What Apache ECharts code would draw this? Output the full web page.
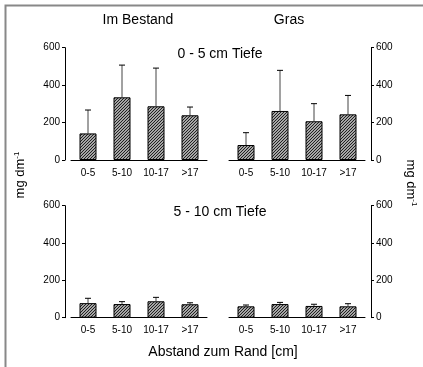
<!DOCTYPE html>
<html><head><meta charset="utf-8">
<script src="https://cdn.jsdelivr.net/npm/echarts@6/dist/echarts.min.js"></script>
<style>html,body{margin:0;padding:0;background:#fff}#c{width:423px;height:367px}</style>
</head><body><div id="c"></div>
<script>
// ---- data ----
const categories = ['0-5', '5-10', '10-17', '>17'];
const yTicks = [0, 200, 400, 600];
const panelTitles = ['Im Bestand', 'Gras'];
const depthTitles = ['0 - 5 cm Tiefe', '5 - 10 cm Tiefe'];
// 0-5 cm depth
const bestandTopMean = [142, 335, 287, 239];
const bestandTopSd   = [125, 172, 204, 44];
const grasTopMean    = [80, 262, 207, 244];
const grasTopSd      = [66, 217, 94, 101];
// 5-10 cm depth
const bestandBotMean = [78, 73, 88, 72];
const bestandBotSd   = [26, 13, 21, 8];
const grasBotMean    = [61, 73, 63, 61];
const grasBotSd      = [7, 9, 9, 14];

// ---- hatch pattern ----
function hatch() {
  const c = document.createElement('canvas');
  c.width = 3; c.height = 3;
  const g = c.getContext('2d');
  g.fillStyle = '#e6e6e6'; g.fillRect(0, 0, 3, 3);
  g.strokeStyle = '#1a1a1a'; g.lineWidth = 1.2;
  g.beginPath();
  g.moveTo(-1, 4); g.lineTo(4, -1);
  g.moveTo(-1, 1); g.lineTo(1, -1);
  g.moveTo(2, 4); g.lineTo(4, 2);
  g.stroke();
  return { image: c, repeat: 'repeat' };
}
const pattern = hatch();

const FONT = 'Liberation Sans, Arial, sans-serif';
const grids = [
  { left: 71, width: 136, top: 47.7, height: 112.3 },
  { left: 229, width: 136, top: 47.7, height: 112.3 },
  { left: 71, width: 136, top: 205.7, height: 112 },
  { left: 229, width: 136, top: 205.7, height: 112 }
];
const means = [bestandTopMean, grasTopMean, bestandBotMean, grasBotMean];
const sds = [bestandTopSd, grasTopSd, bestandBotSd, grasBotSd];

const xAxes = grids.map((g, i) => ({
  type: 'category', gridIndex: i, data: categories,
  axisLine: { lineStyle: { color: '#000', width: 1 } },
  axisTick: { alignWithLabel: true, length: 3, lineStyle: { color: '#000' } },
  axisLabel: { color: '#000', fontSize: 10, fontFamily: FONT, margin: 8, interval: 0, hideOverlap: false }
}));
const yAxes = grids.map((g, i) => ({
  type: 'value', gridIndex: i, min: yTicks[0], max: yTicks[yTicks.length - 1], interval: yTicks[1] - yTicks[0],
  position: i % 2 === 0 ? 'left' : 'right', offset: 6,
  splitLine: { show: false },
  axisLine: { show: true, lineStyle: { color: '#000', width: 1 } },
  axisTick: { show: true, length: 3, lineStyle: { color: '#000' } },
  axisLabel: { color: '#000', fontSize: 10, fontFamily: FONT, margin: 5 }
}));

const series = [];
means.forEach((m, i) => {
  series.push({
    type: 'bar', xAxisIndex: i, yAxisIndex: i, data: m, barWidth: 17,
    itemStyle: { color: pattern, borderColor: '#000', borderWidth: 1 },
    z: 2
  });
  series.push({
    type: 'custom', xAxisIndex: i, yAxisIndex: i, z: 1,
    data: m.map((v, k) => [k, v, sds[i][k]]),
    renderItem: function (params, api) {
      const k = api.value(0), v = api.value(1), s = api.value(2);
      const p0 = api.coord([k, v]);
      const p1 = api.coord([k, v + s]);
      return {
        type: 'group', children: [
          { type: 'line', shape: { x1: p0[0], y1: p0[1], x2: p1[0], y2: p1[1] }, style: { stroke: '#444', lineWidth: 1 } },
          { type: 'line', shape: { x1: p1[0] - 3, y1: p1[1], x2: p1[0] + 3, y2: p1[1] }, style: { stroke: '#000', lineWidth: 1 } }
        ]
      };
    }
  });
});

const chart = echarts.init(document.getElementById('c'), null, { renderer: 'canvas' });
const T = (x, y, text, size) => ({ type: 'text', x: x, y: y, style: { text: text, font: size + 'px ' + FONT, fill: '#000', align: 'center', verticalAlign: 'middle' } });
const rich = { s: { fontSize: 8, verticalAlign: 'top', padding: [0, 0, 7, 0], fontFamily: FONT } };
chart.setOption({
  animation: false,
  backgroundColor: '#fff',
  grid: grids,
  xAxis: xAxes,
  yAxis: yAxes,
  series: series,
  graphic: [
    { type: 'rect', shape: { x: 5.5, y: 5.5, width: 600, height: 600 }, style: { fill: 'none', stroke: '#888', lineWidth: 2 }, silent: true },
    T(138, 20, panelTitles[0], 14),
    T(289, 20, panelTitles[1], 14),
    T(220, 54, depthTitles[0], 14),
    T(220, 212, depthTitles[1], 14),
    T(223, 352, 'Abstand zum Rand [cm]', 14),
    { type: 'text', x: 20, y: 175, rotation: Math.PI / 2, style: { text: 'mg dm{s|-1}', rich: rich, font: '13px ' + FONT, fill: '#000', align: 'center', verticalAlign: 'middle' } },
    { type: 'text', x: 411, y: 183, rotation: -Math.PI / 2, style: { text: 'mg dm{s|-1}', rich: rich, font: '13px ' + FONT, fill: '#000', align: 'center', verticalAlign: 'middle' } }
  ]
});
</script>
</body></html>
